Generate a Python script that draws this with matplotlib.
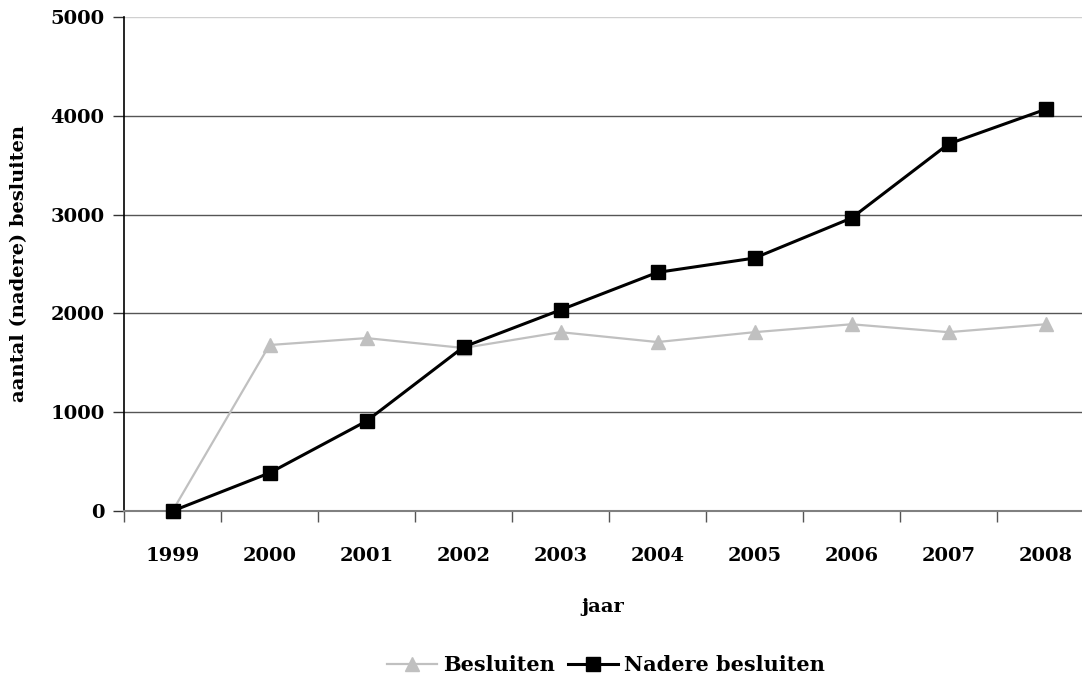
import matplotlib
matplotlib.use("Agg")
import matplotlib.pyplot as plt

years = ['1999', '2000', '2001', '2002', '2003', '2004', '2005', '2006', '2007', '2008']
besluiten = [0, 1680, 1750, 1650, 1810, 1710, 1810, 1890, 1810, 1890]
nadere_besluiten = [0, 385, 910, 1660, 2035, 2415, 2560, 2965, 3715, 4065]

plt.rcParams['font.family'] = ['DejaVu Serif']
plt.rcParams['font.weight'] = 'bold'

fig = plt.figure(figsize=(10.82, 6.79), dpi=100)
ax = fig.add_axes([124 / 1082, 1 - 511 / 679, 1 - 124 / 1082, (511 - 17) / 679])

x = list(range(len(years)))
ax.plot(x, besluiten, color='#c0c0c0', lw=1.6, marker='^', ms=10,
        mec='#c0c0c0', mfc='#c0c0c0', label='Besluiten', zorder=3, clip_on=False)
ax.plot(x, nadere_besluiten, color='black', lw=2.2, marker='s', ms=10,
        mec='black', mfc='black', label='Nadere besluiten', zorder=4, clip_on=False)

ax.set_yticks(range(0, 5001, 1000))
ax.set_yticklabels([str(v) for v in range(0, 5001, 1000)], fontsize=14, fontweight='bold')

# category boundaries get the tick marks, labels sit in the middle
ax.set_xticks([i + 0.5 for i in range(-1, 9)])
ax.set_xticklabels([])
ax.set_xticks(x, minor=True)
ax.set_xticklabels(years, minor=True, fontsize=14, fontweight='bold')
ax.tick_params(axis='x', which='minor', length=0, pad=26)
ax.tick_params(axis='x', which='major', length=8, width=1, color='#555555', direction='out')
ax.tick_params(axis='y', length=8, width=1, color='#333333', direction='out', pad=6)

ax.set_ylim(0, 5000)
ax.set_xlim(-0.5, 9.5 - 12 / 97)

for v in range(1000, 5001, 1000):
    ax.axhline(v, color='#d0d0d0' if v == 5000 else '#555555', lw=1, zorder=1)

ax.spines['top'].set_visible(False)
ax.spines['right'].set_visible(False)
ax.spines['left'].set_color('black')
ax.spines['left'].set_linewidth(1.2)
ax.spines['bottom'].set_color('#808080')
ax.spines['bottom'].set_linewidth(1.5)

ax.set_xlabel('jaar', fontsize=14, fontweight='bold', labelpad=24)
ax.set_ylabel('aantal (nadere) besluiten', fontsize=14, fontweight='bold', labelpad=16)

fig.legend(loc='center', bbox_to_anchor=(606 / 1082, 1 - 665 / 679), ncol=2,
           frameon=False, handlelength=2.4, columnspacing=0.6,
           handletextpad=0.3, prop={'weight': 'bold', 'size': 15})

fig.savefig('out.png', dpi=100)
